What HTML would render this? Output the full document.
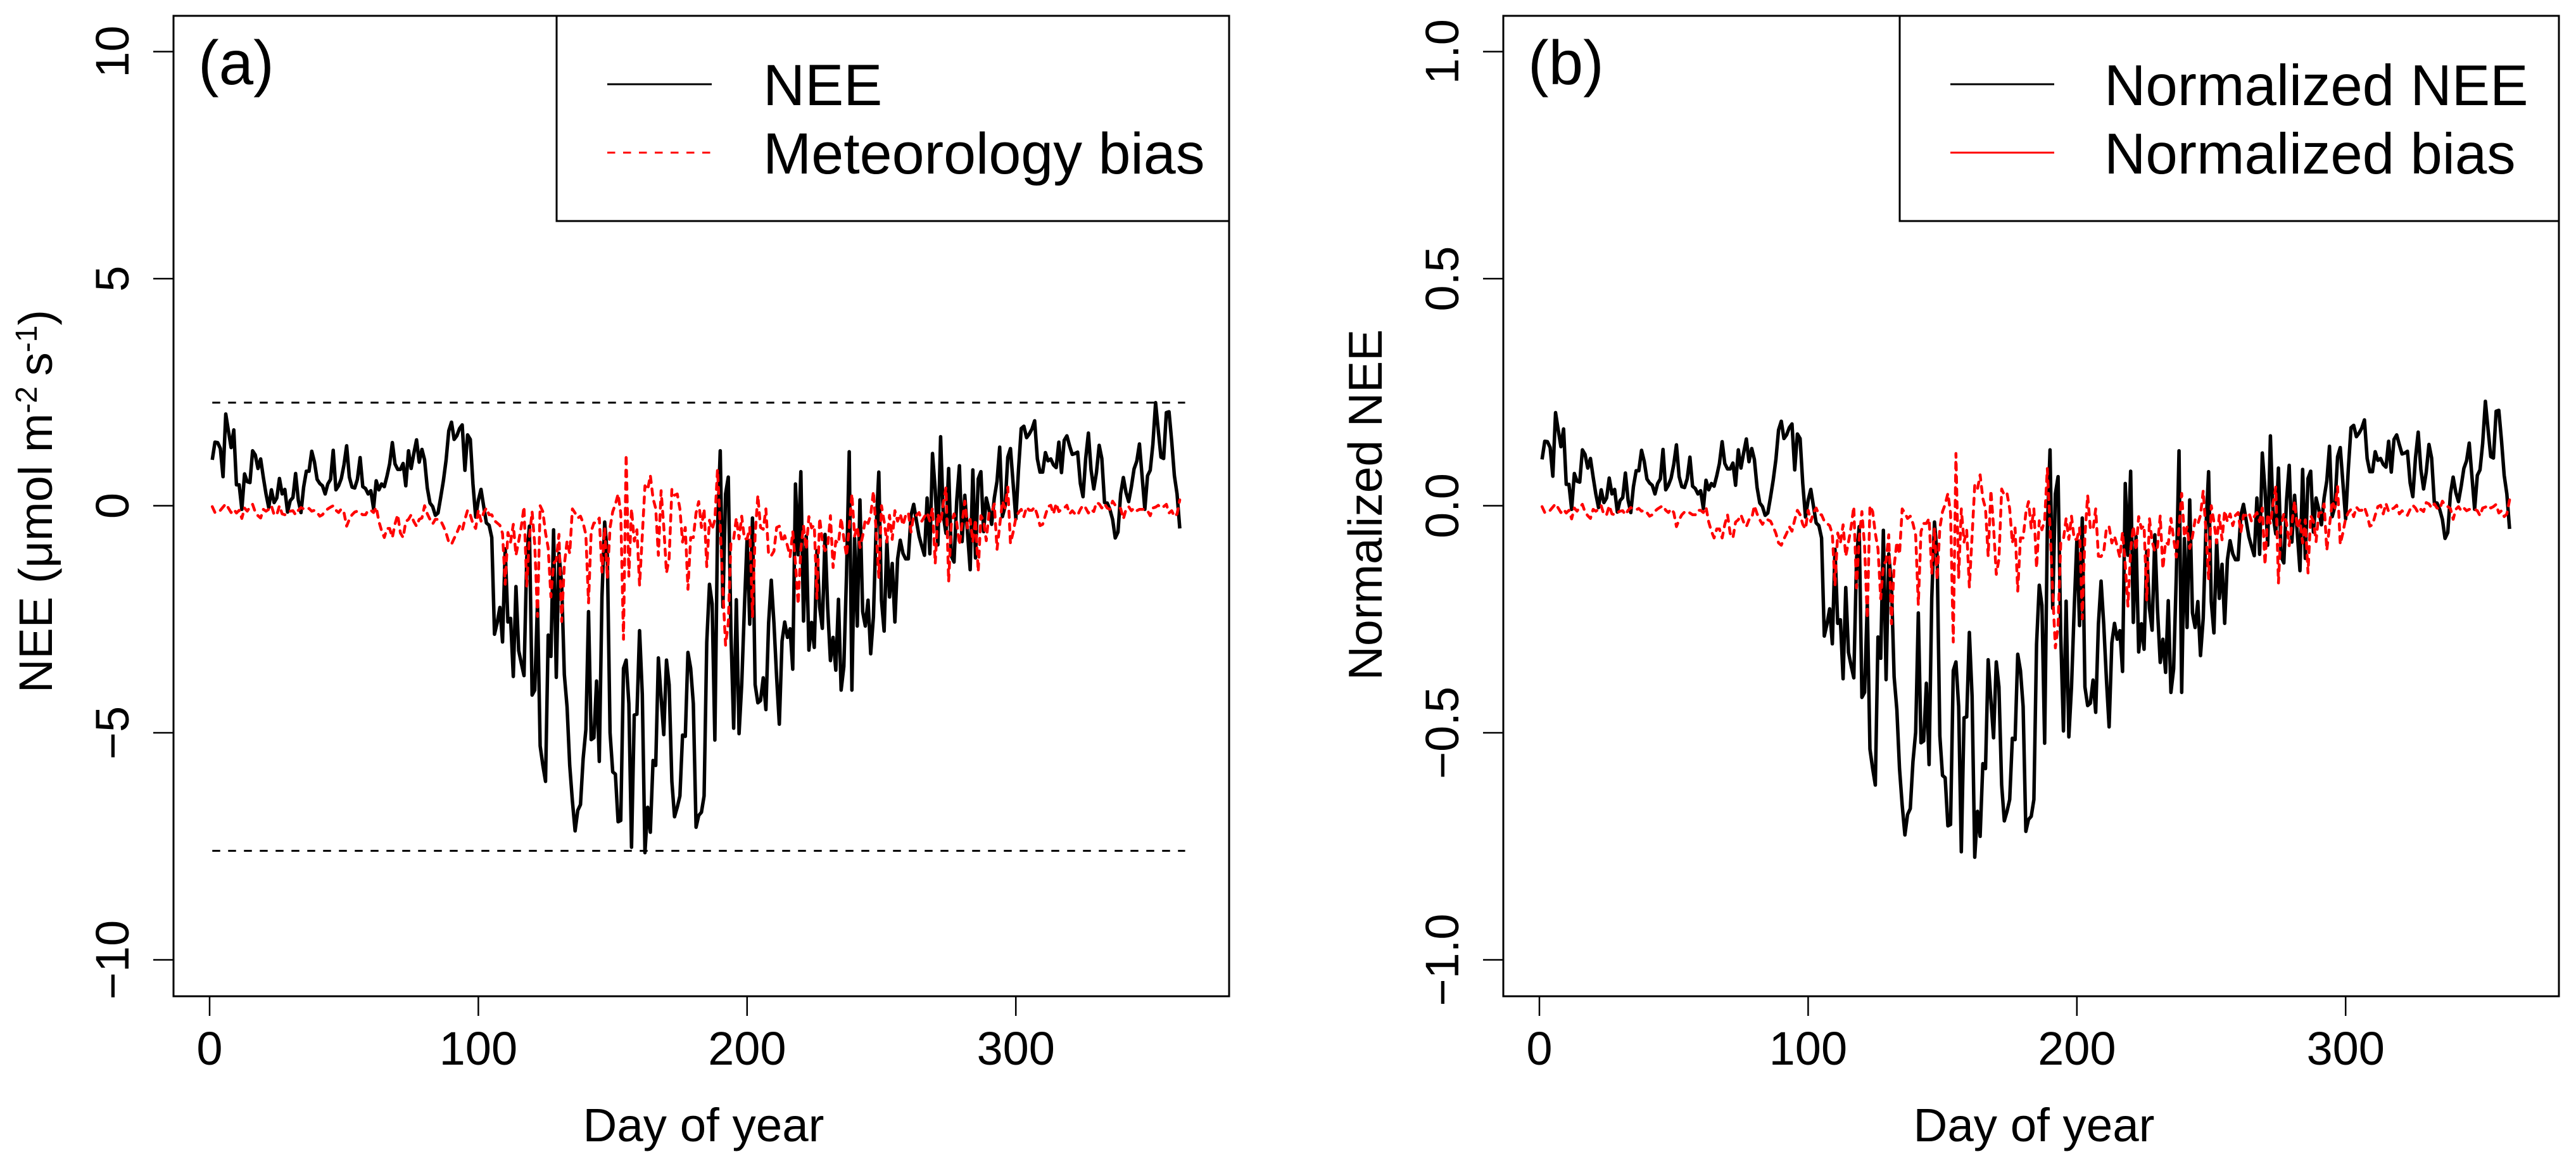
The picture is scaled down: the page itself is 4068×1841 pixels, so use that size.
<!DOCTYPE html>
<html lang="en">
<head>
<meta charset="utf-8">
<title>NEE and normalized NEE by day of year</title>
<style>
html,body{margin:0;padding:0;background:#fff;}
svg{display:block;}
text{font-family:"Liberation Sans",Arial,sans-serif;fill:#000;}
</style>
</head>
<body>
<svg id="figure" xmlns="http://www.w3.org/2000/svg" width="4068" height="1841" viewBox="0 0 4068 1841">
  <rect x="0" y="0" width="4068" height="1841" fill="#fff"/>

  <g id="panel-a"></g>
  <g id="panel-b"></g>

  <g>
    <text x="313" y="133" font-size="98">(a)</text>
    <text x="1111" y="1802" font-size="74.5" text-anchor="middle">Day of year</text>
    <text transform="translate(82,1094) rotate(-90)" font-size="74">NEE (μmol m<tspan font-size="48" dy="-24">-2</tspan><tspan dy="24" dx="-4"> s</tspan><tspan font-size="48" dy="-24">-1</tspan><tspan dy="24">)</tspan></text>
  </g>
  <g>
    <path d="M879 25V349H1941" fill="none" stroke="#000" stroke-width="3"/>
    <line x1="959" y1="133" x2="1124" y2="133" stroke="#000" stroke-width="3"/>
    <text x="1205" y="166" font-size="91.6">NEE</text>
    <line x1="959" y1="241" x2="1124" y2="241" stroke="#ff0000" stroke-width="3" stroke-dasharray="12.5 12.5"/>
    <text x="1205" y="274" font-size="91.6">Meteorology bias</text>
  </g>

  <g>
    <text x="2413" y="133" font-size="98">(b)</text>
    <text x="3212" y="1802" font-size="74.5" text-anchor="middle">Day of year</text>
    <text transform="translate(2182,797) rotate(-90)" font-size="75" text-anchor="middle">Normalized NEE</text>
  </g>
  <g>
    <path d="M3000 25V349H4041" fill="none" stroke="#000" stroke-width="3"/>
    <line x1="3080" y1="133" x2="3244" y2="133" stroke="#000" stroke-width="3"/>
    <text x="3323" y="166" font-size="90.6">Normalized NEE</text>
    <line x1="3080" y1="241" x2="3244" y2="241" stroke="#ff0000" stroke-width="3"/>
    <text x="3323" y="274" font-size="90.6">Normalized bias</text>
  </g>
</svg>

<script>
var firstDay = 1;

var neeValues = [
1.01,1.40,1.39,1.26,.64,2.02,1.65,1.28,1.67,.46,
.46,-.08,.70,.53,.51,1.21,1.12,.82,1.03,.62,
.26,-.04,.35,.07,.17,.60,.26,.36,-.14,.11,
.18,.71,.12,-.15,.41,.76,.76,1.20,.97,.58,
.49,.44,.26,.48,.58,1.22,.35,.44,.60,.90,
1.32,.63,.41,.39,.58,1.06,.42,.38,.26,.33,
-.06,.55,.35,.48,.42,.65,.92,1.39,.92,.80,
.80,.93,.44,1.21,.82,1.15,1.45,.96,1.24,1.01,
.39,.06,-.02,-.21,-.16,.19,.55,1.01,1.65,1.84,
1.46,1.54,1.70,1.78,.78,1.56,1.46,.48,-.25,.12,
.36,-.02,-.38,-.43,-.70,-2.83,-2.58,-2.24,-3.00,-.95,
-2.56,-2.48,-3.76,-1.78,-3.19,-3.47,-3.74,-1.16,-.45,-4.17,
-4.06,-2.12,-5.29,-5.72,-6.07,-2.85,-3.32,-.53,-3.78,-1.05,
-1.73,-3.72,-4.43,-5.72,-6.50,-7.16,-6.71,-6.58,-5.57,-4.93,
-2.33,-5.15,-5.11,-3.86,-5.63,-2.01,-.36,-1.09,-5.00,-5.86,
-5.91,-6.96,-6.93,-3.58,-3.40,-4.36,-7.52,-4.61,-4.59,-2.75,
-4.15,-7.64,-6.64,-7.19,-5.61,-5.72,-3.35,-4.22,-5.04,-3.40,
-3.94,-6.07,-6.85,-6.64,-6.39,-5.05,-5.08,-3.23,-3.58,-4.36,
-7.08,-6.82,-6.75,-6.39,-3.01,-1.73,-2.16,-5.16,-.52,1.21,
-2.23,.26,.63,-2.80,-4.90,-2.07,-5.02,-3.94,-2.23,-.73,
-2.61,-.27,-3.94,-4.34,-4.29,-3.79,-4.49,-2.58,-1.64,-2.58,
-3.79,-4.81,-2.98,-2.56,-2.90,-2.71,-3.60,.48,-1.08,.75,
-2.54,-.67,-3.18,-2.57,-3.12,-.99,-2.23,-2.70,-.63,-2.26,
-3.41,-2.90,-3.62,-2.06,-4.06,-3.54,-1.52,1.19,-4.06,-.71,
-2.65,.13,-2.33,-2.65,-2.08,-3.26,-2.45,-.52,.74,-2.08,
-2.76,-.77,-2.01,-1.27,-2.56,-1.17,-.76,-1.05,-1.17,-1.17,
-.21,.03,-.33,-.67,-.89,-1.09,.17,-1.06,1.15,.35,
-.86,1.52,-.21,-.61,.82,-1.11,-1.24,.10,.88,-.79,
.23,-.58,-1.41,.79,-1.15,.59,.75,-.57,.17,-.08,
-.41,.17,.54,1.29,-.24,-.02,1.07,1.26,.48,-.29,
.79,1.70,1.75,1.50,1.58,1.69,1.87,1.03,.74,.74,
1.17,.99,1.03,.90,.84,1.40,.73,1.44,1.54,1.32,
1.13,1.15,1.18,.49,.20,1.04,1.60,.79,.37,.73,
1.33,1.04,.07,.06,-.08,-.30,-.71,-.58,.26,.62,
.29,.09,.42,.81,.98,1.36,.63,-.08,.66,.78,
1.35,2.27,1.66,1.07,1.04,2.05,2.07,1.41,.66,.26,
-.50];

var meteorologyBiasValues = [
-.02,-.15,-.15,-.10,-.03,.04,-.05,-.15,-.08,-.16,
-.10,-.28,-.05,-.12,-.03,.03,-.14,-.22,-.27,-.08,
-.12,-.08,0,-.20,-.20,0,-.18,-.20,-.15,-.12,
-.11,-.20,-.10,-.04,-.07,-.09,-.06,-.12,-.10,-.15,
-.23,-.20,-.12,-.07,-.03,0,-.10,-.15,-.07,-.15,
-.45,-.30,-.20,-.14,-.12,-.16,-.20,-.20,-.10,-.10,
-.15,-.03,-.35,-.55,-.70,-.50,-.50,-.70,-.40,-.20,
-.60,-.70,-.35,-.30,-.20,-.35,-.45,-.30,-.27,0,
-.18,-.30,-.40,-.30,-.30,-.33,-.45,-.60,-.80,-.85,
-.72,-.60,-.45,-.55,-.30,-.10,-.20,-.40,-.50,-.10,
-.34,-.15,-.05,-.20,-.20,
-.33,-.38,-.43,-.61,-1.73,-.59,-.80,-.41,-1.09,-.78,
-.45,-.02,-1.77,-.70,-.13,-.86,-2.44,0,-.13,-.60,
-.93,-2.01,-1.27,-1.20,-.63,-2.55,-1.30,-.78,-1.05,-.07,
-.16,-.27,-.23,-.38,-.64,-2.14,-.56,-.38,-.38,-.27,
-1.46,-.48,-1.60,-.48,-.13,.03,.26,-.16,-2.94,1.13,
-1.55,-.07,-.78,-.53,-1.75,-.66,.44,.35,.67,.16,
-.06,-1.09,.33,-.45,-1.48,-1.16,.36,.23,.26,-.07,
-.80,-.48,-1.84,-.70,-.70,-.16,.09,-.48,-.07,-1.34,
-.32,-.52,-.31,.80,-.46,-1.87,-3.07,-2.58,-.80,-.73,
-.27,-.73,-.23,-.73,-.73,-.48,-2.44,-.65,.23,-.48,
-.52,-.07,-1.09,-1.10,-1.00,-.48,-.45,-.80,-.66,-.88,
-1.12,-.57,-1.27,-2.17,-.96,-.44,-.96,-.24,-.49,-.43,
-2.04,-.27,-.77,-.99,-.89,-.22,-1.36,-.78,-.83,-.27,
-.72,-1.11,-.47,.26,-.67,-.46,-.92,-.67,-.30,-.39,
-.21,.32,-.53,-1.58,0,-.34,-.80,-.21,-.74,-.11,
-.34,-.18,-.43,-.21,-.15,-.58,-.21,-.21,-.15,-.34,
-.24,-.15,-.34,-.05,-1.27,-.18,-.39,.04,.40,-1.67,
-.41,-.18,-.36,-.86,-.39,.10,-.49,-.30,-.80,-.30,
-1.45,-.22,-.33,-.77,-.16,-.15,.04,-.96,-.44,.10,
-.05,.41,-.83,-.58,-.27,-.15,-.08,-.24,-.03,-.10,
-.10,-.03,-.21,-.44,-.41,-.21,-.02,.01,-.18,.05,
-.13,-.08,-.05,.01,-.18,-.11,-.18,-.21,-.08,.01,
-.05,-.16,-.08,-.13,.07,.04,-.05,.04,-.05,-.08,
.10,.01,-.02,-.06,-.29,-.08,-.02,-.11,-.05,-.11,
-.08,-.08,-.08,-.11,-.22,-.05,-.03,.01,-.05,-.02,
.03,-.16,-.11,-.24,-.18,.13];

var normalizedNeeValues = [
.102,.142,.141,.128,.065,.205,.167,.130,.169,.047,
.047,-.008,.071,.054,.052,.123,.113,.083,.104,.063,
.026,-.004,.035,.007,.017,.061,.026,.036,-.014,.011,
.018,.072,.012,-.015,.042,.077,.077,.122,.098,.059,
.050,.045,.026,.049,.059,.124,.035,.045,.061,.091,
.134,.064,.042,.040,.059,.107,.043,.038,.026,.033,
-.006,.056,.035,.049,.043,.066,.093,.141,.093,.081,
.081,.094,.045,.123,.083,.116,.147,.097,.126,.102,
.040,.006,-.002,-.021,-.016,.019,.056,.102,.167,.186,
.148,.156,.172,.180,.079,.158,.148,.049,-.025,.012,
.036,-.002,-.038,-.044,-.071,-.287,-.261,-.227,-.304,-.096,
-.259,-.251,-.381,-.180,-.323,-.352,-.379,-.118,-.046,-.422,
-.411,-.215,-.536,-.579,-.615,-.289,-.336,-.054,-.383,-.106,
-.175,-.377,-.449,-.579,-.659,-.725,-.680,-.667,-.564,-.499,
-.236,-.522,-.518,-.391,-.570,-.204,-.036,-.110,-.507,-.594,
-.599,-.705,-.702,-.363,-.344,-.442,-.762,-.467,-.465,-.279,
-.420,-.774,-.673,-.728,-.568,-.579,-.339,-.428,-.511,-.344,
-.399,-.615,-.694,-.673,-.647,-.512,-.515,-.327,-.363,-.442,
-.717,-.691,-.684,-.647,-.305,-.175,-.219,-.523,-.053,.123,
-.226,.026,.064,-.284,-.496,-.210,-.509,-.399,-.226,-.074,
-.264,-.027,-.399,-.440,-.435,-.384,-.455,-.261,-.166,-.261,
-.384,-.487,-.302,-.259,-.294,-.275,-.365,.049,-.109,.076,
-.257,-.068,-.322,-.260,-.316,-.100,-.226,-.274,-.064,-.229,
-.345,-.294,-.367,-.209,-.411,-.359,-.154,.121,-.411,-.072,
-.268,.013,-.236,-.268,-.211,-.330,-.248,-.053,.075,-.211,
-.280,-.078,-.204,-.129,-.259,-.119,-.077,-.106,-.119,-.119,
-.021,.003,-.033,-.068,-.090,-.110,.017,-.107,.116,.035,
-.087,.154,-.021,-.062,.083,-.112,-.126,.010,.089,-.080,
.023,-.059,-.143,.080,-.116,.060,.076,-.058,.017,-.008,
-.042,.017,.055,.131,-.024,-.002,.108,.128,.049,-.029,
.080,.172,.177,.152,.160,.171,.189,.104,.075,.075,
.119,.100,.104,.091,.085,.142,.074,.146,.156,.134,
.114,.116,.120,.050,.020,.105,.162,.080,.037,.074,
.135,.105,.007,.006,-.008,-.030,-.072,-.059,.026,.063,
.029,.009,.043,.082,.099,.138,.064,-.008,.067,.079,
.137,.230,.168,.108,.105,.208,.210,.143,.067,.026,
-.051];

var normalizedBiasValues = [
-.002,-.015,-.015,-.010,-.003,.004,-.005,-.015,-.008,-.016,
-.010,-.029,-.005,-.012,-.003,.003,-.014,-.022,-.028,-.008,
-.012,-.008,0,-.020,-.020,0,-.018,-.020,-.015,-.012,
-.011,-.020,-.010,-.004,-.007,-.009,-.006,-.012,-.010,-.015,
-.023,-.020,-.012,-.007,-.003,0,-.010,-.015,-.007,-.015,
-.046,-.031,-.020,-.014,-.012,-.016,-.020,-.020,-.010,-.010,
-.015,-.003,-.036,-.056,-.071,-.051,-.051,-.071,-.041,-.020,
-.061,-.071,-.036,-.031,-.020,-.036,-.046,-.031,-.028,0,
-.018,-.031,-.041,-.031,-.031,-.034,-.046,-.061,-.082,-.087,
-.073,-.061,-.046,-.056,-.031,-.010,-.020,-.041,-.051,-.010,
-.035,-.015,-.005,-.020,-.020,
-.034,-.039,-.044,-.062,-.176,-.060,-.082,-.042,-.111,-.080,
-.046,-.002,-.181,-.071,-.013,-.088,-.249,0,-.013,-.061,
-.095,-.205,-.130,-.122,-.064,-.260,-.133,-.080,-.107,-.007,
-.016,-.028,-.023,-.039,-.065,-.218,-.057,-.039,-.039,-.028,
-.149,-.049,-.163,-.049,-.013,.003,.027,-.016,-.300,.115,
-.158,-.007,-.080,-.054,-.179,-.067,.045,.036,.068,.016,
-.006,-.111,.034,-.046,-.151,-.118,.037,.023,.027,-.007,
-.082,-.049,-.188,-.071,-.071,-.016,.009,-.049,-.007,-.137,
-.033,-.053,-.032,.082,-.047,-.191,-.313,-.263,-.082,-.074,
-.028,-.074,-.023,-.074,-.074,-.049,-.249,-.066,.023,-.049,
-.053,-.007,-.111,-.112,-.102,-.049,-.046,-.082,-.067,-.090,
-.114,-.058,-.130,-.221,-.098,-.045,-.098,-.024,-.050,-.044,
-.208,-.028,-.079,-.101,-.091,-.022,-.139,-.080,-.085,-.028,
-.073,-.113,-.048,.027,-.068,-.047,-.094,-.068,-.031,-.040,
-.021,.033,-.054,-.161,0,-.035,-.082,-.021,-.075,-.011,
-.035,-.018,-.044,-.021,-.015,-.059,-.021,-.021,-.015,-.035,
-.024,-.015,-.035,-.005,-.130,-.018,-.040,.004,.041,-.170,
-.042,-.018,-.037,-.088,-.040,.010,-.050,-.031,-.082,-.031,
-.148,-.022,-.034,-.079,-.016,-.015,.004,-.098,-.045,.010,
-.005,.042,-.085,-.059,-.028,-.015,-.008,-.024,-.003,-.010,
-.010,-.003,-.021,-.045,-.042,-.021,-.002,.001,-.018,.005,
-.013,-.008,-.005,.001,-.018,-.011,-.018,-.021,-.008,.001,
-.005,-.016,-.008,-.013,.007,.004,-.005,.004,-.005,-.008,
.010,.001,-.002,-.006,-.030,-.008,-.002,-.011,-.005,-.011,
-.008,-.008,-.008,-.011,-.022,-.005,-.003,.001,-.005,-.002,
.003,-.016,-.011,-.024,-.018,.013];

var xTickValues = [0, 100, 200, 300];
var panelAYTicks = [-10, -5, 0, 5, 10];
var panelAYTickLabels = ["\u221210", "\u22125", "0", "5", "10"];
var panelBYTicks = [-1, -0.5, 0, 0.5, 1];
var panelBYTickLabels = ["\u22121.0", "\u22120.5", "0.0", "0.5", "1.0"];
var referenceLevels = [2.27, -7.6];
var referenceStartDay = 1;
var referenceEndDay = 363;

var SVGNS = "http://www.w3.org/2000/svg";

function node(parent, tag, attrs) {
  var el = document.createElementNS(SVGNS, tag);
  for (var k in attrs) { el.setAttribute(k, attrs[k]); }
  parent.appendChild(el);
  return el;
}

function drawSeries(group, values, xFn, yFn, color, dashed, name) {
  var d = "";
  for (var i = 0; i < values.length; i++) {
    d += (i ? "L" : "M") + xFn(firstDay + i).toFixed(1) + " " + yFn(values[i]).toFixed(1);
  }
  var path = node(group, "path", {
    d: d, fill: "none", stroke: color,
    "stroke-width": dashed ? 4.5 : 5.5,
    "stroke-linejoin": "round", "stroke-linecap": dashed ? "round" : "butt"
  });
  if (dashed) { path.setAttribute("stroke-dasharray", "10 10"); }
  
  
}

function drawAxes(group, cfg, xFn, yFn, prefix) {
  var box = node(group, "rect", {
    x: cfg.left, y: cfg.top, width: cfg.right - cfg.left, height: cfg.bottom - cfg.top,
    fill: "none", stroke: "#000", "stroke-width": 3
  });
  
  

  xTickValues.forEach(function (t) {
    var px = xFn(t);
    var tick = node(group, "line", {
      x1: px, x2: px, y1: cfg.bottom, y2: cfg.bottom + 31, stroke: "#000", "stroke-width": 2.5
    });
    
    
    var label = node(group, "text", {
      x: px, y: 1681, "font-size": 74, "text-anchor": "middle"
    });
    label.textContent = String(t);
    
    
  });

  cfg.yTicks.forEach(function (t, i) {
    var py = yFn(t);
    var tick = node(group, "line", {
      x1: cfg.left - 32, x2: cfg.left, y1: py, y2: py, stroke: "#000", "stroke-width": 2.5
    });
    
    
    var label = node(group, "text", {
      transform: "translate(" + (cfg.left - 71) + "," + py + ") rotate(-90)",
      "font-size": 74, "text-anchor": "middle"
    });
    label.textContent = cfg.yLabels[i];
    
    
  });
}

var plotTop = 25, plotBottom = 1573;

/* panel (a) */
var xA = function (d) { return 331 + 4.244 * d; };
var yA = function (v) { return 798.5 - 71.7 * v; };
var groupA = document.getElementById("panel-a");
drawAxes(groupA, {
  left: 274, right: 1941, top: plotTop, bottom: plotBottom,
  yTicks: panelAYTicks, yLabels: panelAYTickLabels
}, xA, yA, "panel-a");
drawSeries(groupA, neeValues, xA, yA, "#000", false, "nee-line");
drawSeries(groupA, meteorologyBiasValues, xA, yA, "#ff0000", true, "meteorology-bias-line");
referenceLevels.forEach(function (level) {
  var ref = node(groupA, "line", {
    x1: xA(referenceStartDay), x2: xA(referenceEndDay), y1: yA(level), y2: yA(level),
    stroke: "#000", "stroke-width": 3, "stroke-dasharray": "12.5 12.5"
  });
  
  
});

/* panel (b) */
var xB = function (d) { return 2431 + 4.244 * d; };
var yB = function (v) { return 798.5 - 717 * v; };
var groupB = document.getElementById("panel-b");
drawAxes(groupB, {
  left: 2374, right: 4041, top: plotTop, bottom: plotBottom,
  yTicks: panelBYTicks, yLabels: panelBYTickLabels
}, xB, yB, "panel-b");
drawSeries(groupB, normalizedNeeValues, xB, yB, "#000", false, "normalized-nee-line");
drawSeries(groupB, normalizedBiasValues, xB, yB, "#ff0000", true, "normalized-bias-line");
</script>
</body>
</html>
